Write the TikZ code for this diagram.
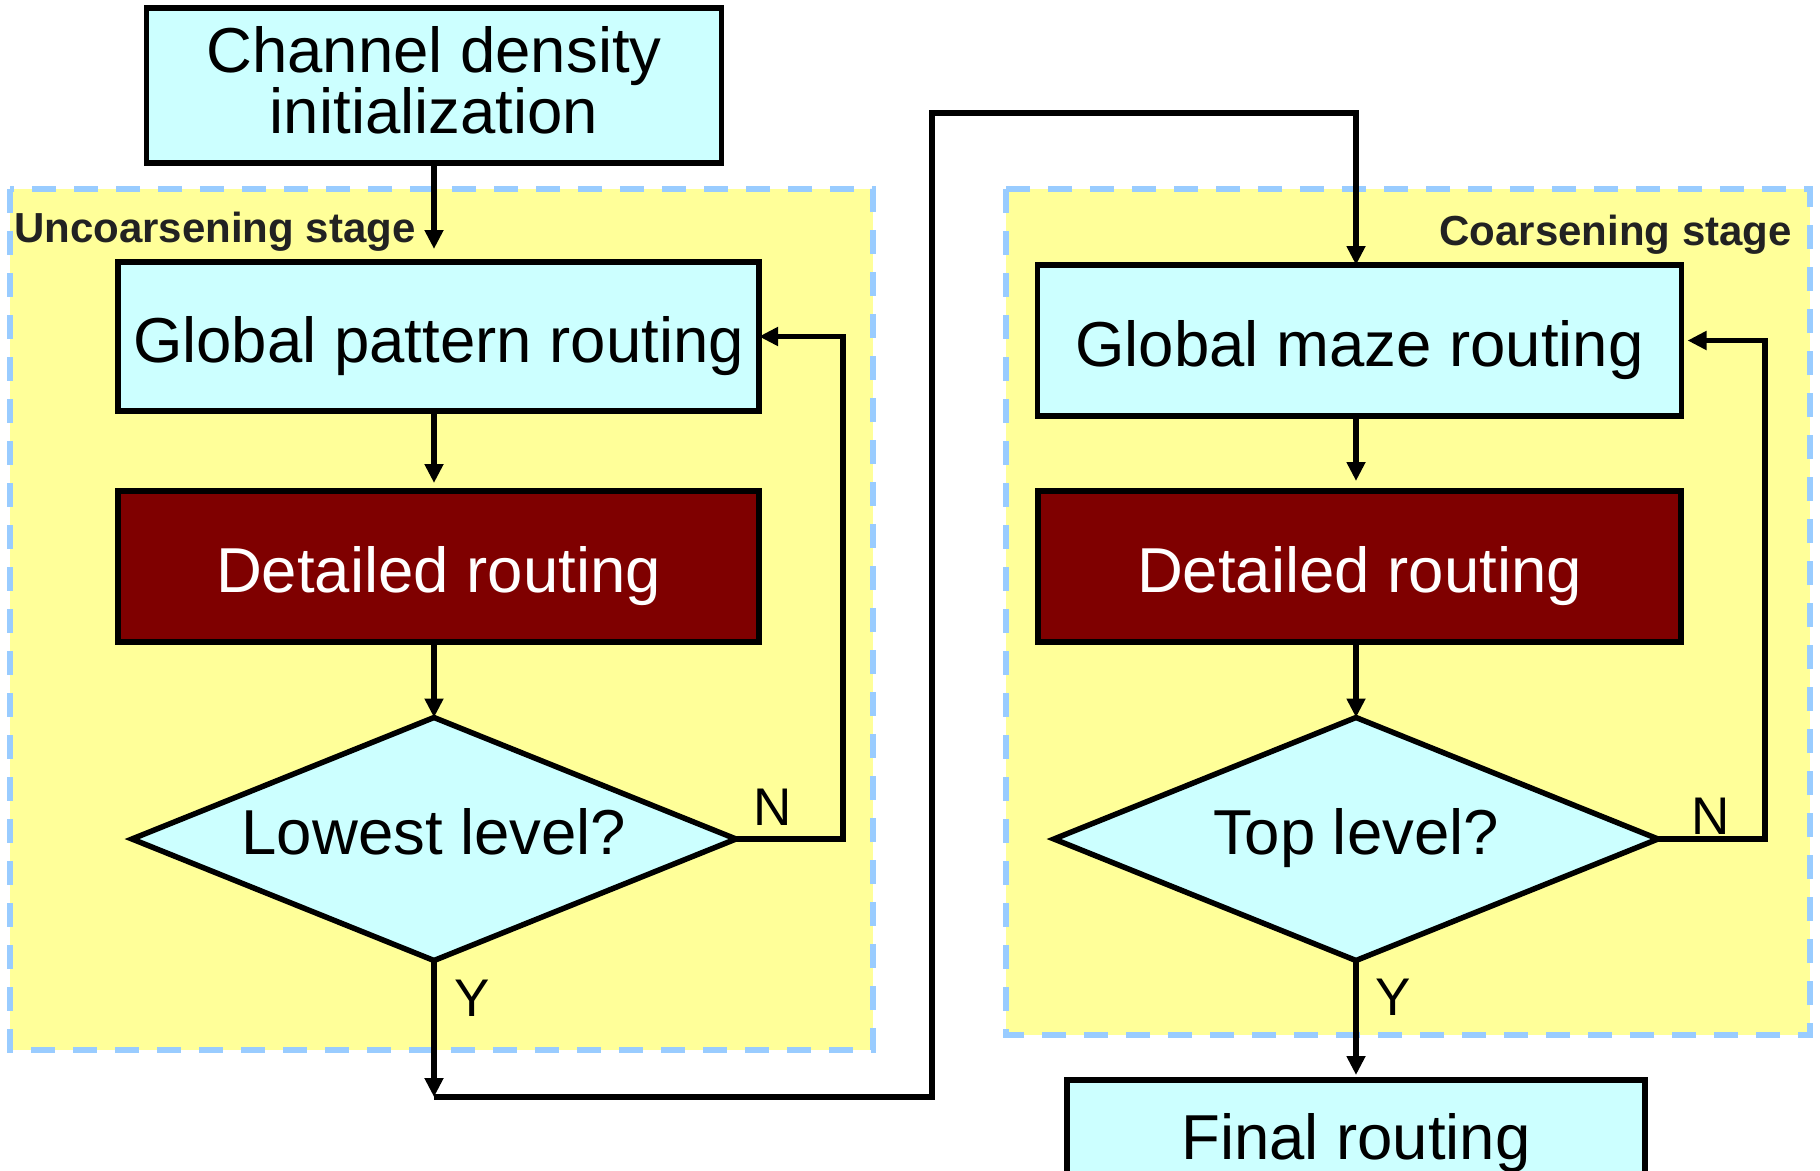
\documentclass[tikz,border=0pt]{standalone}
\usepackage{fontspec}
\setmainfont{Liberation Sans}
\usetikzlibrary{arrows.meta,shapes.geometric}
\definecolor{cyanfill}{HTML}{CCFFFF}
\definecolor{darkred}{HTML}{7F0000}
\definecolor{stageyellow}{HTML}{FFFF99}
\definecolor{dashblue}{HTML}{99CCFF}
\definecolor{labelgray}{HTML}{222222}
\begin{document}
\begin{tikzpicture}[x=1pt,y=-1pt,
  stagebox/.style={fill=stageyellow,draw=dashblue,line width=6pt,dash pattern=on 24pt off 18pt},
  procbox/.style={rectangle,draw=black,line width=5.5pt,fill=cyanfill,inner sep=0pt,outer sep=0pt,
    font=\fontsize{63.5}{61}\selectfont,text height=52pt,text depth=0pt},
  detailbox/.style={procbox,fill=darkred,text=white},
  decision/.style={diamond,aspect=2.4856,draw=black,line width=5.5pt,fill=cyanfill,inner sep=0pt,outer sep=0pt,
    minimum width=604pt,minimum height=243pt,font=\fontsize{63.5}{61}\selectfont,
    text height=45pt,text depth=14pt},
  stagelabel/.style={font=\fontsize{42}{42}\selectfont\bfseries,text=labelgray,inner sep=0pt},
  branchlabel/.style={font=\fontsize{53}{53}\selectfont,inner sep=0pt,anchor=base},
  conn/.style={line width=5.2pt,draw=black},
  flow/.style={conn,-{Triangle[length=19pt,width=18pt]}},
]
\fill[white] (0,0) rectangle (1820,1170);
\useasboundingbox (0,0) rectangle (1820,1170);
\clip (0,0) rectangle (1820,1170);

% stage regions
\path[stagebox] (10,189) rectangle (873,1050);
\path[stagebox] (1006,189) rectangle (1810,1035);

% nodes
\node[procbox,minimum width=575pt,minimum height=155pt,align=center,text height=95pt,text depth=0pt] (chan) at (434,85.5) {Channel density\\initialization};
\node[procbox,minimum width=641pt,minimum height=149pt] (gp) at (438.5,336.5) {Global pattern routing};
\node[detailbox,minimum width=641pt,minimum height=151pt] (dl) at (438.5,566.5) {Detailed routing};
\node[decision] (dL) at (434,839) {Lowest level?};
\node[procbox,minimum width=644pt,minimum height=151pt] (gm) at (1359.5,340.5) {Global maze routing};
\node[detailbox,minimum width=643pt,minimum height=151pt] (dr) at (1359.5,566.5) {Detailed routing};
\node[decision] (dR) at (1356,839) {Top level?};
\node[procbox,minimum width=578pt,minimum height=107pt] (fin) at (1356,1133.5) {Final routing};

% labels
\node[stagelabel,anchor=base west] (uncl) at (14,242) {Uncoarsening stage};
\node[stagelabel,anchor=base east] (cl) at (1792,245) {Coarsening stage};
\node[branchlabel] (nL) at (772.5,825) {N};
\node[branchlabel] (yL) at (472,1016) {Y};
\node[branchlabel] (nR) at (1710.5,834) {N};
\node[branchlabel] (yR) at (1393,1015) {Y};

% helper coordinates
\coordinate (lx) at (434,0);
\coordinate (rx) at (1356,0);
\coordinate (loopL) at (843,839);
\coordinate (loopR) at (1765,839);
\coordinate (j1) at (434,1097);
\coordinate (j2) at (932,113);

% connectors
\draw[flow,shorten >=13pt] (chan.south) -- (lx |- gp.north);
\draw[flow,shorten >=8pt] (lx |- gp.south) -- (lx |- dl.north);
\draw[flow] (lx |- dl.south) -- (dL.north);
\draw[flow] (dL.east) -- (loopL) |- (gp.east);
\draw[flow] (dL.south) -- (j1);
\draw[flow] (j1) -| (j2) -| (rx |- gm.north);
\draw[flow,shorten >=10pt] (rx |- gm.south) -- (rx |- dr.north);
\draw[flow] (rx |- dr.south) -- (dR.north);
\draw[flow,shorten >=6pt] (dR.east) -- (loopR) |- (gm.east);
\draw[flow,shorten >=5pt] (dR.south) -- (fin.north);
\end{tikzpicture}
\end{document}
